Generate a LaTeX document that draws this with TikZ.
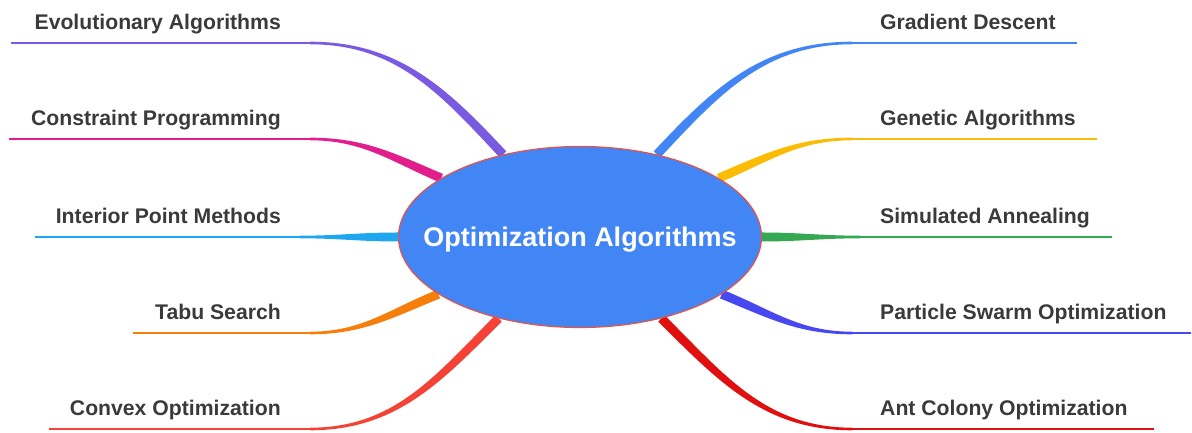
\documentclass[tikz,border=0pt]{standalone}
\usepackage{fontspec}
\setmainfont{Liberation Sans}
\usepackage{tikz}
\usetikzlibrary{positioning,calc,shapes.geometric,backgrounds}
\definecolor{ink}{HTML}{3A3A3A}
\definecolor{hubfill}{HTML}{4285F4}
\definecolor{hubedge}{HTML}{E5534B}
\definecolor{evocol}{HTML}{7A5AE0}
\definecolor{conscol}{HTML}{E21E8C}
\definecolor{ipmcol}{HTML}{1EA7F0}
\definecolor{tabucol}{HTML}{F57F0A}
\definecolor{cvxcol}{HTML}{F44336}
\definecolor{gdcol}{HTML}{4285F4}
\definecolor{gacol}{HTML}{FBBC05}
\definecolor{sacol}{HTML}{34A853}
\definecolor{psocol}{HTML}{4848F0}
\definecolor{acocol}{HTML}{E01010}
\tikzset{
  hubnode/.style={ellipse,draw=hubedge,line width=1.2pt,fill=hubfill,
            minimum width=363pt,minimum height=181pt,inner sep=0pt,
            text depth=0pt,text=white,
            font=\bfseries\fontsize{27}{27}\selectfont},
  leafL/.style={anchor=base east,inner sep=0pt,text=ink,
            font=\bfseries\fontsize{21.2}{21.2}\selectfont},
  leafR/.style={leafL,anchor=base west},
  twig/.style={line width=2.4pt},
}
% tapered branch: colour, start of the curve, hub angle, leaving angle
\newcommand{\taper}[4]{%
  \fill[#1] ($(#2)+(#4+90:1.3)$) to[out=#4,in=#3] ($(hub.#3)+(#3-90:4.5)$)
    -- ($(hub.#3)+(#3+90:4.5)$) to[out=#3,in=#4] ($(#2)+(#4-90:1.3)$) -- cycle;}

\begin{document}
\begin{tikzpicture}[x=1pt,y=1pt]
  \useasboundingbox (0,0) rectangle (1192,433);
  \node[hubnode] (hub) at (580,196) {\makebox[0pt]{Optimization Algorithms}};

  % left side
  \node[leafL] (evo)  at (281,403) {Evolutionary Algorithms};
  \node[leafL] (cons) at (281,307) {Constraint Programming};
  \node[leafL] (ipm)  at (281,209) {Interior Point Methods};
  \node[leafL] (tabu) at (281,113) {Tabu Search};
  \node[leafL] (cvx)  at (281,17)  {Convex Optimization};
  % right side
  \node[leafR] (gd)  at (880,403) {Gradient Descent};
  \node[leafR] (ga)  at (880,307) {Genetic Algorithms};
  \node[leafR] (sa)  at (880,209) {Simulated Annealing};
  \node[leafR] (pso) at (880,113) {Particle Swarm Optimization};
  \node[leafR] (aco) at (880,17)  {Ant Colony Optimization};

  \coordinate (evo-a)  at ([shift={(29,-13)}]evo.base east);
  \coordinate (evo-z)  at ([shift={(-23,-13)}]evo.base west);
  \coordinate (cons-a) at ([shift={(29,-13)}]cons.base east);
  \coordinate (cons-z) at ([shift={(-22,-13)}]cons.base west);
  \coordinate (ipm-a)  at ([shift={(19,-13)}]ipm.base east);
  \coordinate (ipm-z)  at ([shift={(-21,-13)}]ipm.base west);
  \coordinate (tabu-a) at ([shift={(29,-13)}]tabu.base east);
  \coordinate (tabu-z) at ([shift={(-22,-13)}]tabu.base west);
  \coordinate (cvx-a)  at ([shift={(29,-13)}]cvx.base east);
  \coordinate (cvx-z)  at ([shift={(-21,-13)}]cvx.base west);
  \coordinate (gd-a)  at ([shift={(-28,-13)}]gd.base west);
  \coordinate (gd-z)  at ([shift={(21,-13)}]gd.base east);
  \coordinate (ga-a)  at ([shift={(-28,-13)}]ga.base west);
  \coordinate (ga-z)  at ([shift={(21,-13)}]ga.base east);
  \coordinate (sa-a)  at ([shift={(-20,-13)}]sa.base west);
  \coordinate (sa-z)  at ([shift={(22,-13)}]sa.base east);
  \coordinate (pso-a) at ([shift={(-28,-13)}]pso.base west);
  \coordinate (pso-z) at ([shift={(24,-13)}]pso.base east);
  \coordinate (aco-a) at ([shift={(-28,-13)}]aco.base west);
  \coordinate (aco-z) at ([shift={(26,-13)}]aco.base east);

  \begin{scope}[on background layer]
    \draw[twig,evocol] (evo-z) -- (evo-a);
    \taper{evocol}{evo-a}{133}{0}
    \draw[twig,conscol] (cons-z) -- (cons-a);
    \taper{conscol}{cons-a}{157}{0}
    \draw[twig,ipmcol] (ipm-z) -- (ipm-a);
    \taper{ipmcol}{ipm-a}{180}{0}
    \draw[twig,tabucol] (tabu-z) -- (tabu-a);
    \taper{tabucol}{tabu-a}{202}{0}
    \draw[twig,cvxcol] (cvx-z) -- (cvx-a);
    \taper{cvxcol}{cvx-a}{225}{0}
    \draw[twig,gdcol] (gd-z) -- (gd-a);
    \taper{gdcol}{gd-a}{47}{180}
    \draw[twig,gacol] (ga-z) -- (ga-a);
    \taper{gacol}{ga-a}{23}{180}
    \draw[twig,sacol] (sa-z) -- (sa-a);
    \taper{sacol}{sa-a}{0}{180}
    \draw[twig,psocol] (pso-z) -- (pso-a);
    \taper{psocol}{pso-a}{338}{180}
    \draw[twig,acocol] (aco-z) -- (aco-a);
    \taper{acocol}{aco-a}{315}{180}
  \end{scope}
\end{tikzpicture}
\end{document}
